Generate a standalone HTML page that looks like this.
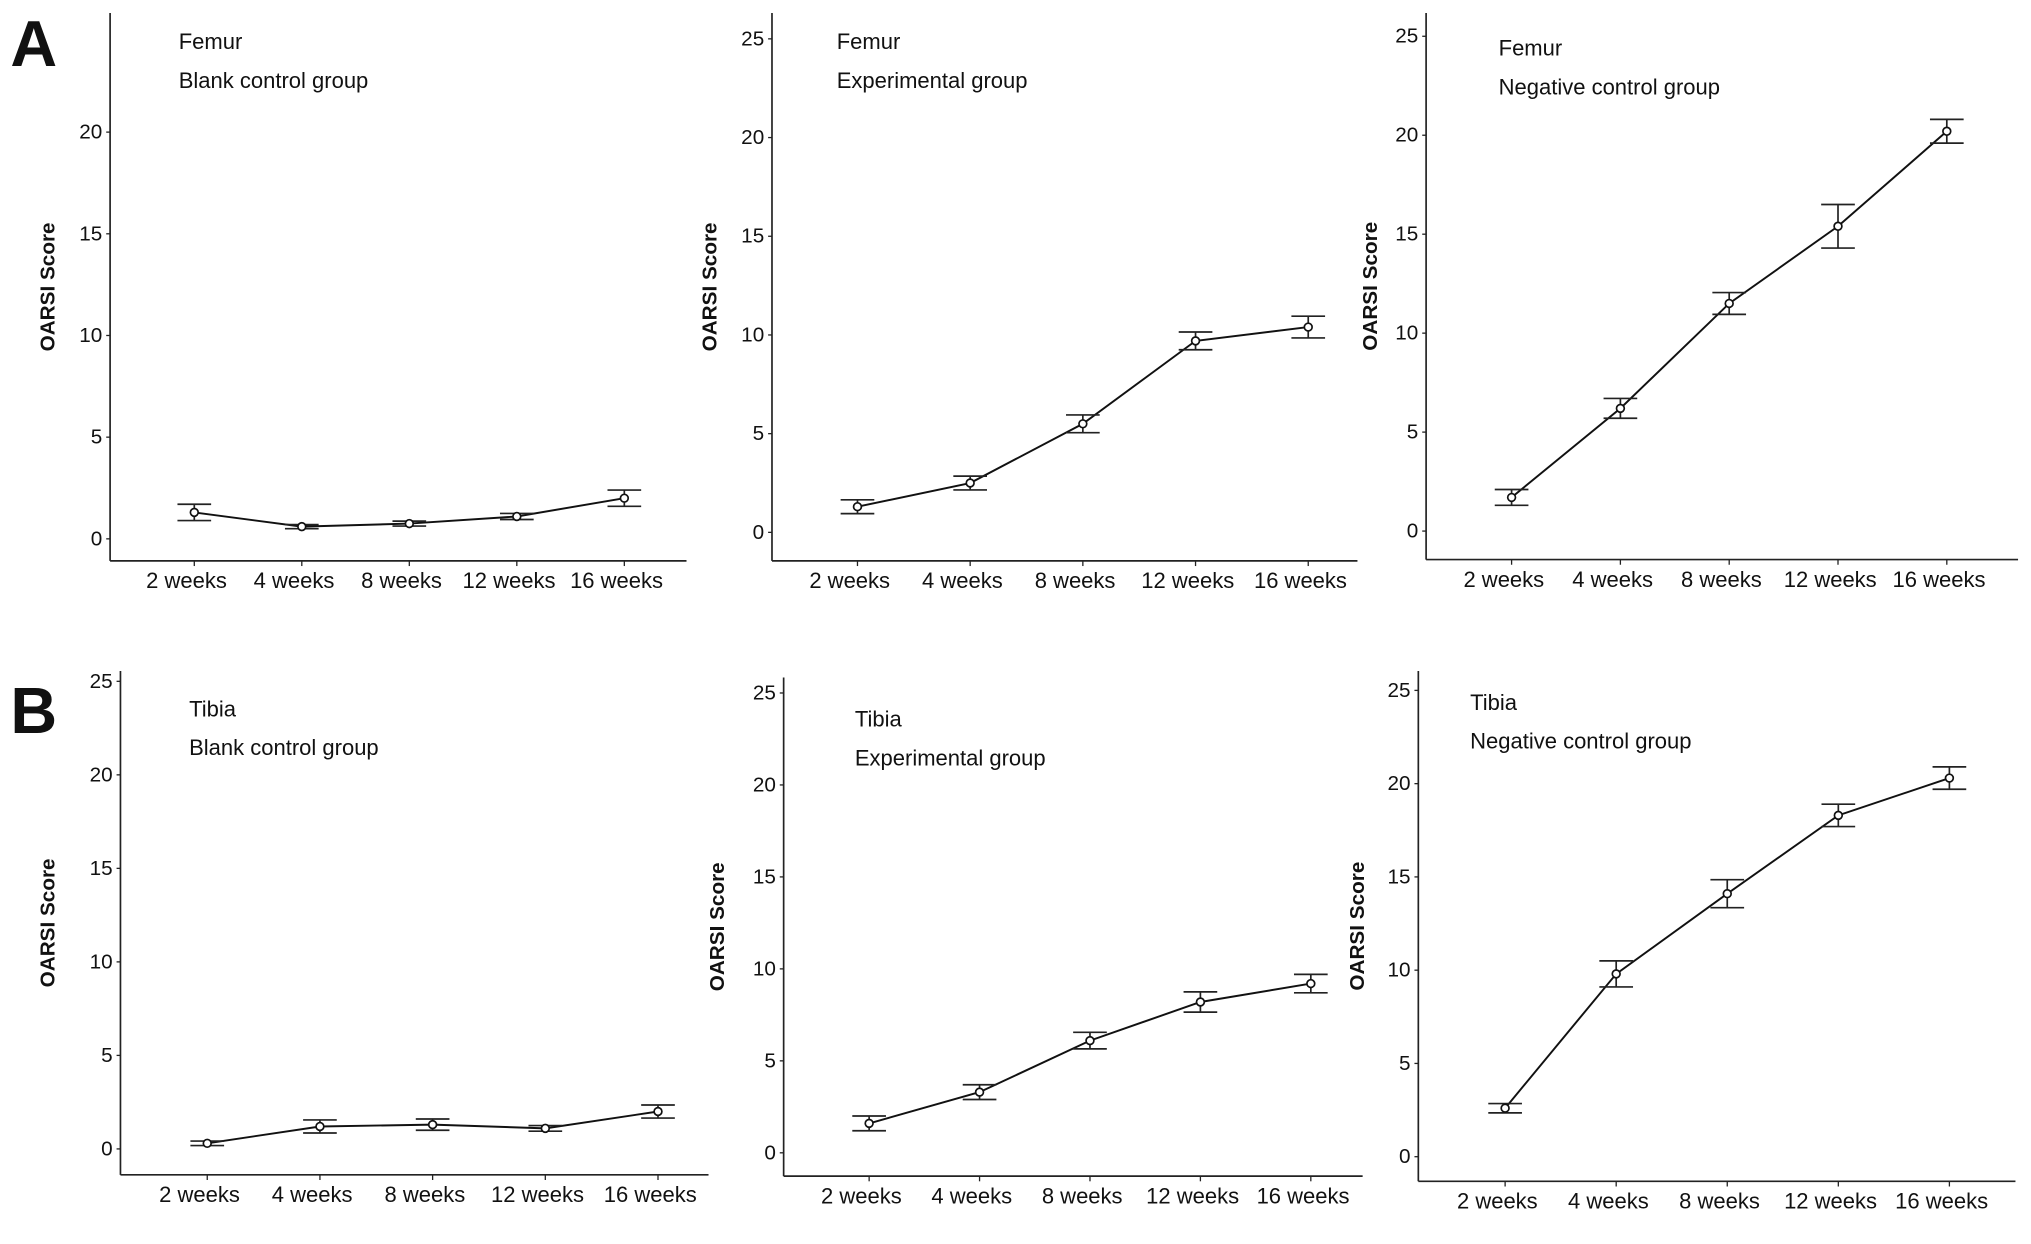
<!DOCTYPE html>
<html><head><meta charset="utf-8"><style>
html,body{margin:0;padding:0;background:#fff}
svg{display:block}
text{font-family:"Liberation Sans",sans-serif;fill:#111}
</style></head><body>
<svg id="fig" width="2031" height="1244" viewBox="0 0 1568 960.4" preserveAspectRatio="none" xmlns="http://www.w3.org/2000/svg">
<text x="8" y="51" font-size="50" font-weight="bold">A</text>
<text x="8" y="566" font-size="50" font-weight="bold">B</text>
</svg>
<script>
const categories = ["2 weeks","4 weeks","8 weeks","12 weeks","16 weeks"];
const femurBlank = [1.3,0.6,0.75,1.1,2.0];
const femurBlankErr = [0.4,0.1,0.12,0.15,0.4];
const femurExp = [1.3,2.5,5.5,9.7,10.4];
const femurExpErr = [0.35,0.35,0.45,0.45,0.55];
const femurNeg = [1.7,6.2,11.5,15.4,20.2];
const femurNegErr = [0.4,0.5,0.55,1.1,0.6];
const tibiaBlank = [0.3,1.2,1.3,1.1,2.0];
const tibiaBlankErr = [0.12,0.35,0.3,0.15,0.35];
const tibiaExp = [1.6,3.3,6.1,8.2,9.2];
const tibiaExpErr = [0.4,0.4,0.45,0.55,0.5];
const tibiaNeg = [2.6,9.8,14.1,18.3,20.3];
const tibiaNegErr = [0.25,0.7,0.75,0.6,0.6];
const yTicks = [0,5,10,15,20,25];
const yTicksA1 = [0,5,10,15,20];

const NS="http://www.w3.org/2000/svg";
const svg=document.getElementById('fig');
function mk(tag,attrs,parent){const e=document.createElementNS(NS,tag);for(const k in attrs)e.setAttribute(k,attrs[k]);(parent||svg).appendChild(e);return e;}

const panels=[
 {id:'femur-blank',ax:85,top:10,bottom:433,right:530,y0:416,y25:416-25*15.7,x0:150,x4:482,vals:femurBlank,err:femurBlankErr,ticks:yTicksA1,t1:'Femur',t2:'Blank control group',tx:138,ty:32,yl:37},
 {id:'femur-exp',ax:596,top:10,bottom:433,right:1048,y0:411,y25:30,x0:662,x4:1010,vals:femurExp,err:femurExpErr,ticks:yTicks,t1:'Femur',t2:'Experimental group',tx:646,ty:32,yl:548},
 {id:'femur-neg',ax:1101,top:10,bottom:432,right:1558,y0:410,y25:28,x0:1167,x4:1503,vals:femurNeg,err:femurNegErr,ticks:yTicks,t1:'Femur',t2:'Negative control group',tx:1157,ty:37,yl:1058},
 {id:'tibia-blank',ax:93,top:518,bottom:907,right:547,y0:887,y25:526,x0:160,x4:508,vals:tibiaBlank,err:tibiaBlankErr,ticks:yTicks,t1:'Tibia',t2:'Blank control group',tx:146,ty:547,yl:37},
 {id:'tibia-exp',ax:605,top:523,bottom:908,right:1052,y0:890,y25:535,x0:671,x4:1012,vals:tibiaExp,err:tibiaExpErr,ticks:yTicks,t1:'Tibia',t2:'Experimental group',tx:660,ty:555,yl:554},
 {id:'tibia-neg',ax:1095,top:518,bottom:912,right:1556,y0:893,y25:533,x0:1162,x4:1505,vals:tibiaNeg,err:tibiaNegErr,ticks:yTicks,t1:'Tibia',t2:'Negative control group',tx:1135,ty:542,yl:1048},
];

panels.forEach(p=>{
  const g=mk('g',{});
  
  
  const ys=v=>p.y0+(p.y25-p.y0)*v/25;
  const xs=i=>p.x0+(p.x4-p.x0)*i/(categories.length-1);
  const ya=mk('line',{x1:p.ax,y1:p.top,x2:p.ax,y2:p.bottom,stroke:'#222','stroke-width':1.3},g);
  
  
  const xa=mk('line',{x1:p.ax,y1:p.bottom,x2:p.right,y2:p.bottom,stroke:'#222','stroke-width':1.3},g);
  
  
  p.ticks.forEach(t=>{
    const y=ys(t);
    mk('line',{x1:p.ax-3,y1:y,x2:p.ax,y2:y,stroke:'#222'},g);
    const tl=mk('text',{x:p.ax-6,y:y+5,'font-size':16,'text-anchor':'end'},g);
    tl.textContent=t;
    
    
  });
  categories.forEach((c,i)=>{
    const x=xs(i);
    mk('line',{x1:x,y1:p.bottom,x2:x,y2:p.bottom+4,stroke:'#222'},g);
    const tl=mk('text',{x:x-6,y:p.bottom+21,'font-size':17,'text-anchor':'middle'},g);
    tl.textContent=c;
    
    
  });
  const yl=mk('text',{x:0,y:0,'font-size':16,'font-weight':'bold','text-anchor':'middle',transform:`translate(${p.yl+5},${(p.top+p.bottom)/2}) rotate(-90)`},g);
  yl.textContent='OARSI Score';
  
  
  const t1=mk('text',{x:p.tx,y:p.ty+6,'font-size':17},g);
  t1.textContent=p.t1;
  
  
  const t2=mk('text',{x:p.tx,y:p.ty+36,'font-size':17},g);
  t2.textContent=p.t2;
  
  
  const pts=p.vals.map((v,i)=>xs(i)+','+ys(v)).join(' ');
  const ln=mk('polyline',{points:pts,fill:'none',stroke:'#111','stroke-width':1.5},g);
  
  
  p.vals.forEach((v,i)=>{
    const x=xs(i),e=p.err[i];
    const eb=mk('path',{d:`M${x-13},${ys(v+e)}H${x+13}M${x},${ys(v+e)}V${ys(v-e)}M${x-13},${ys(v-e)}H${x+13}`,stroke:'#222','stroke-width':1.3,fill:'none'},g);
    
    
    const pt=mk('circle',{cx:x,cy:ys(v),r:3,fill:'#fff',stroke:'#111','stroke-width':1.3},g);
    
    
  });
});
</script>
</body></html>
